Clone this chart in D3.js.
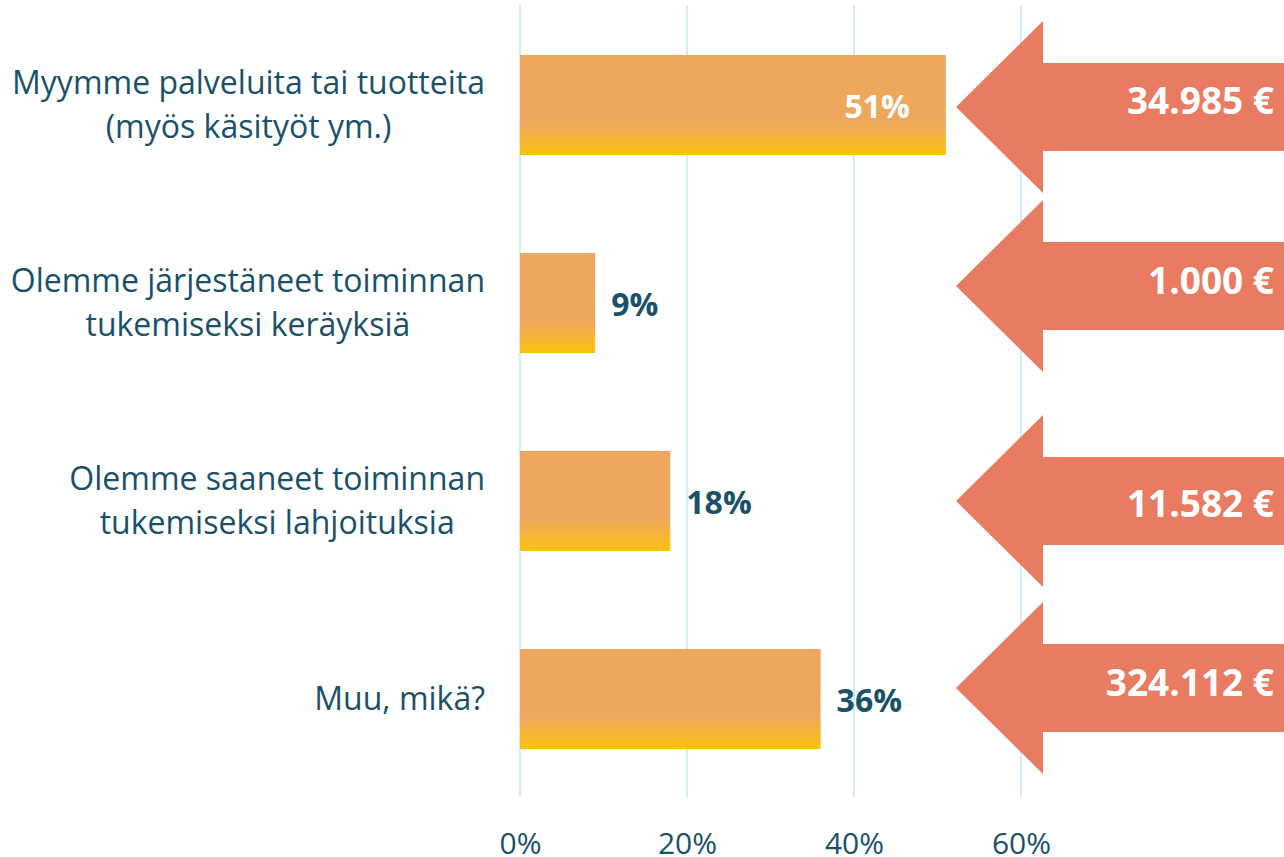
<!DOCTYPE html>
<html>
<head>
<meta charset="utf-8">
<script src="https://cdn.jsdelivr.net/npm/d3@7"></script>
<style>
	body { margin: 0; background: #fff; }
	text { font-family: "Open Sans", sans-serif; }
</style>
</head>
<body>
<div id="chart"></div>
<script>
var categories = [
	['Myymme palveluita tai tuotteita', '(myös käsityöt ym.)'],
	['Olemme järjestäneet toiminnan', 'tukemiseksi keräyksiä'],
	['Olemme saaneet toiminnan', 'tukemiseksi lahjoituksia'],
	['Muu, mikä?']
];
var shares = [0.51, 0.09, 0.18, 0.36];
var amounts = ['34.985 €', '1.000 €', '11.582 €', '324.112 €'];
var ticks = [0, 0.2, 0.4, 0.6];

// arrows do not sit exactly on the bar centres in the original
var arrowShift = [2, -17, 0, -11];
var arrowTextShift = [-6, -5, 3, -5];

var colors = {
	text: '#1a5169',
	grid: '#d5ebf5',
	barTop: '#eda85e',
	barBottom: '#fcc10e',
	arrow: '#e97b63'
}

var width = 1284;
var height = 857;

var svg = d3.select('#chart')
	.append('svg')
	.attr('width', width)
	.attr('height', height);

var x = d3.scaleLinear()
	.domain([0, 0.6])
	.range([520, 1021]);

var y = d3.scaleBand()
	.domain(d3.range(categories.length))
	.range([6, 798])
	.paddingInner(0.495)
	.paddingOuter(0.2475);

var defs = svg.append('defs');
var grad = defs.append('linearGradient')
	.attr('id', 'bar-grad')
	.attr('x1', 0).attr('y1', 0)
	.attr('x2', 0).attr('y2', 1);
grad.append('stop').attr('offset', 0).attr('stop-color', colors.barTop);
grad.append('stop').attr('offset', 0.68).attr('stop-color', colors.barTop);
grad.append('stop').attr('offset', 1).attr('stop-color', colors.barBottom);

// grid
svg.append('g')
	.selectAll('line')
	.data(ticks)
	.enter()
	.append('line')
	.attr('x1', function(d) { return x(d); })
	.attr('x2', function(d) { return x(d); })
	.attr('y1', 5)
	.attr('y2', 797)
	.attr('stroke', colors.grid)
	.attr('stroke-width', 2);

// axis labels
var xAxis = svg.append('g')
	.attr('transform', 'translate(0,843)')
	.call(d3.axisBottom(x).tickValues(ticks).tickFormat(d3.format('.0%')).tickSize(0).tickPadding(0));
xAxis.select('.domain').remove();
xAxis.selectAll('text')
	.attr('fill', colors.text)
	.attr('font-size', 30)
	.attr('dy', '0.35em');

// bars
svg.append('g')
	.selectAll('rect')
	.data(shares)
	.enter()
	.append('rect')
	.attr('x', x(0))
	.attr('y', function(d, i) { return y(i); })
	.attr('width', function(d) { return x(d) - x(0); })
	.attr('height', y.bandwidth())
	.attr('fill', 'url(#bar-grad)');

// value labels
svg.append('g')
	.selectAll('text')
	.data(shares)
	.enter()
	.append('text')
	.attr('x', function(d) { return d > 0.4 ? x(d) - 36 : x(d) + 16; })
	.attr('y', function(d, i) { return y(i) + y.bandwidth() / 2 + 2; })
	.attr('dy', '0.35em')
	.attr('text-anchor', function(d) { return d > 0.4 ? 'end' : 'start'; })
	.attr('font-size', 32)
	.attr('font-weight', 'bold')
	.attr('fill', function(d) { return d > 0.4 ? '#fff' : colors.text; })
	.text(function(d) { return Math.round(d * 100) + '%'; });

// category labels: lines centred, longest line ends at x=485
var labelRight = 485;
var cat = svg.append('g')
	.selectAll('text')
	.data(categories)
	.enter()
	.append('text')
	.attr('text-anchor', 'middle')
	.attr('font-size', 32)
	.attr('fill', colors.text)
	.attr('y', function(d, i) { return y(i) + y.bandwidth() / 2; });

cat.selectAll('tspan')
	.data(function(d) { return d.map(function(t, j) { return { t: t, j: j, n: d.length }; }); })
	.enter()
	.append('tspan')
	.attr('dy', function(d) {
		var off = (d.j - (d.n - 1) / 2) * 44;
		return d.j === 0 ? (off + 11) + 'px' : '44px';
	})
	.text(function(d) { return d.t; });

cat.each(function() {
	var spans = d3.select(this).selectAll('tspan');
	var maxW = 0;
	spans.each(function() { maxW = Math.max(maxW, this.getComputedTextLength()); });
	spans.attr('x', labelRight - maxW / 2);
});

// arrows
var tipX = 956, headX = 1043, headH = 86, shaftH = 44;
var arrows = svg.append('g')
	.selectAll('g')
	.data(amounts)
	.enter()
	.append('g')
	.attr('transform', function(d, i) {
		return 'translate(0,' + (y(i) + y.bandwidth() / 2 + arrowShift[i]) + ')';
	});

arrows.append('path')
	.attr('d', d3.line()([
		[tipX, 0], [headX, -headH], [headX, -shaftH], [width, -shaftH],
		[width, shaftH], [headX, shaftH], [headX, headH]
	]) + 'Z')
	.attr('fill', colors.arrow);

arrows.append('text')
	.attr('x', 1274)
	.attr('y', function(d, i) { return arrowTextShift[i]; })
	.attr('dy', '0.35em')
	.attr('text-anchor', 'end')
	.attr('font-size', 37)
	.attr('font-weight', 'bold')
	.attr('fill', '#fff')
	.text(function(d) { return d; });
</script>
</body>
</html>
